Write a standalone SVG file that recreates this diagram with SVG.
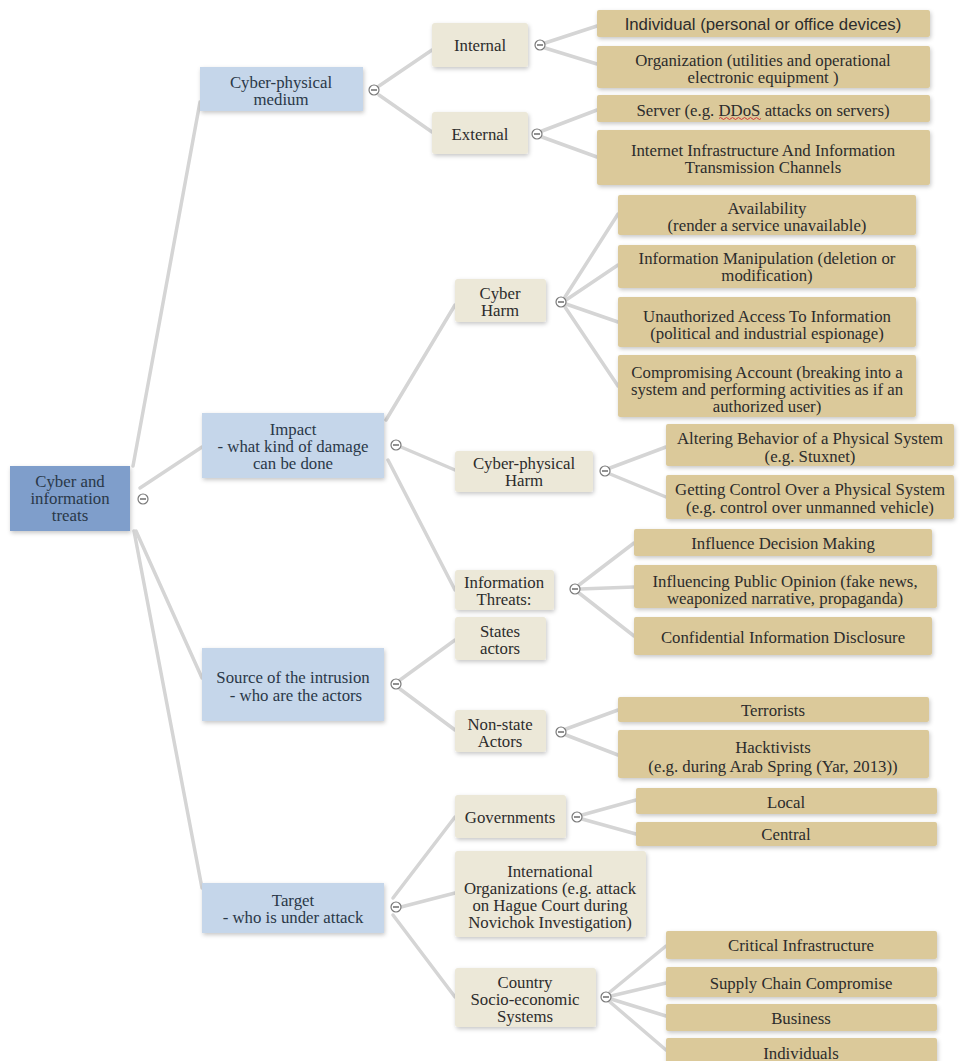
<svg xmlns="http://www.w3.org/2000/svg" width="960" height="1061" viewBox="0 0 960 1061">
<defs>
<filter id="sh" x="-10%" y="-20%" width="125%" height="150%">
<feDropShadow dx="1" dy="2" stdDeviation="2" flood-color="#000" flood-opacity="0.22"/>
</filter>
<filter id="bl" x="-5%" y="-5%" width="110%" height="110%">
<feGaussianBlur stdDeviation="0.7"/>
</filter>
<style>
.root{fill:#7f9ecb}
.l1{fill:#c5d6ea}
.l2{fill:#ece8d8}
.l3{fill:#dbc99a}
.n{filter:url(#sh)}
text{font-family:"Liberation Serif","Times New Roman",serif;font-size:16.8px;fill:#2c2c2c;text-anchor:middle}
.t1{fill:#2a3848}
.sans{font-family:"Liberation Sans",Arial,sans-serif}
.ln{fill:none;stroke:#d5d5d5;stroke-width:3.5;stroke-linecap:round}
.cc{fill:#fff;stroke:#7a7a7a;stroke-width:1.2}
.cm{stroke:#555;stroke-width:1.3}
</style>
</defs>
<rect width="960" height="1061" fill="#fff"/>
<g id="connectors" filter="url(#bl)">
<path class="ln" d="M133,466 L200,102"/>
<path class="ln" d="M140,488 L202,447"/>
<path class="ln" d="M136,531 L202,678"/>
<path class="ln" d="M134,531 L202,888"/>
<path class="ln" d="M379,86 L432,50"/>
<path class="ln" d="M379,95 L432,132"/>
<path class="ln" d="M386,420 L455,305"/>
<path class="ln" d="M394,444 L455,470"/>
<path class="ln" d="M388,460 L455,590"/>
<path class="ln" d="M400,680 L455,640"/>
<path class="ln" d="M400,689 L455,730"/>
<path class="ln" d="M393,898 L455,817"/>
<path class="ln" d="M401,907 L455,893"/>
<path class="ln" d="M393,915 L455,997"/>
<path class="ln" d="M545,43 L597,26"/>
<path class="ln" d="M545,48 L597,64"/>
<path class="ln" d="M542,131 L597,110"/>
<path class="ln" d="M542,137 L597,157"/>
<path class="ln" d="M565,297 L618,214"/>
<path class="ln" d="M566,300 L618,265"/>
<path class="ln" d="M566,304 L618,322"/>
<path class="ln" d="M565,307 L618,386"/>
<path class="ln" d="M610,468 L666,447"/>
<path class="ln" d="M610,474 L666,497"/>
<path class="ln" d="M579,585 L634,543"/>
<path class="ln" d="M580,589 L634,587"/>
<path class="ln" d="M579,593 L634,636"/>
<path class="ln" d="M566,729 L618,710"/>
<path class="ln" d="M566,735 L618,755"/>
<path class="ln" d="M582,815 L636,800"/>
<path class="ln" d="M582,819 L636,834"/>
<path class="ln" d="M610,992 L666,946"/>
<path class="ln" d="M611,996 L666,983"/>
<path class="ln" d="M611,999 L666,1016"/>
<path class="ln" d="M610,1002 L666,1050"/>
</g>

<g id="root">
<rect class="root n" x="10" y="466" width="120" height="65"/>
<text class="t1" x="70" y="487">Cyber and</text>
<text class="t1" x="70" y="504">information</text>
<text class="t1" x="70" y="521">treats</text>
<circle class="cc" cx="143" cy="499" r="5"/><line class="cm" x1="140" y1="499" x2="146" y2="499"/>
</g>

<g id="cyber-physical-medium">
<rect class="l1 n" x="200" y="67" width="163" height="44"/>
<text class="t1" x="281" y="88">Cyber-physical</text>
<text class="t1" x="281" y="105">medium</text>
<circle class="cc" cx="374" cy="90" r="5"/><line class="cm" x1="371" y1="90" x2="377" y2="90"/>
</g>

<g id="impact">
<rect class="l1 n" x="202" y="413" width="182" height="65"/>
<text class="t1" x="293" y="435">Impact</text>
<text class="t1" x="293" y="452">- what kind of damage</text>
<text class="t1" x="293" y="469">can be done</text>
<circle class="cc" cx="396" cy="445" r="5"/><line class="cm" x1="393" y1="445" x2="399" y2="445"/>
</g>

<g id="source">
<rect class="l1 n" x="202" y="648" width="182" height="73"/>
<text class="t1" x="293" y="683">Source of the intrusion</text>
<text class="t1" x="296" y="701">- who are the actors</text>
<circle class="cc" cx="396" cy="684" r="5"/><line class="cm" x1="393" y1="684" x2="399" y2="684"/>
</g>

<g id="target">
<rect class="l1 n" x="202" y="883" width="182" height="50"/>
<text class="t1" x="293" y="906">Target</text>
<text class="t1" x="293" y="923">- who is under attack</text>
<circle class="cc" cx="396" cy="907" r="5"/><line class="cm" x1="393" y1="907" x2="399" y2="907"/>
</g>

<g id="internal">
<rect class="l2 n" x="432" y="23" width="96" height="44" rx="3"/>
<text x="480" y="51">Internal</text>
<circle class="cc" cx="540" cy="45" r="5"/><line class="cm" x1="537" y1="45" x2="543" y2="45"/>
</g>
<g id="external">
<rect class="l2 n" x="432" y="112" width="96" height="42" rx="3"/>
<text x="480" y="140">External</text>
<circle class="cc" cx="537" cy="134" r="5"/><line class="cm" x1="534" y1="134" x2="540" y2="134"/>
</g>

<g id="individual-devices">
<rect class="l3 n" x="597" y="10" width="333" height="27" rx="2"/>
<text class="sans" x="763" y="30">Individual (personal or office devices)</text>
</g>
<g id="organization">
<rect class="l3 n" x="597" y="46" width="333" height="42" rx="2"/>
<text x="763" y="66">Organization (utilities and operational</text>
<text x="763" y="83">electronic equipment )</text>
</g>
<g id="server">
<rect class="l3 n" x="597" y="95" width="333" height="27" rx="2"/>
<text x="763" y="116">Server (e.g. DDoS attacks on servers)</text>
<path d="M719,118.5 q1.5,-2 3,0 t3,0 t3,0 t3,0 t3,0 t3,0 t3,0 t3,0 t3,0 t3,0 t3,0 t3,0 t3,0 t3,0" fill="none" stroke="#d23a3a" stroke-width="1"/>
</g>
<g id="internet-infrastructure">
<rect class="l3 n" x="597" y="130" width="333" height="55" rx="2"/>
<text x="763" y="156">Internet Infrastructure And Information</text>
<text x="763" y="173">Transmission Channels</text>
</g>

<g id="cyber-harm">
<rect class="l2 n" x="455" y="279" width="91" height="43" rx="3"/>
<text x="500" y="299">Cyber</text>
<text x="500" y="316">Harm</text>
<circle class="cc" cx="561" cy="302" r="5"/><line class="cm" x1="558" y1="302" x2="564" y2="302"/>
</g>
<g id="availability">
<rect class="l3 n" x="618" y="195" width="298" height="40" rx="2"/>
<text x="767" y="214">Availability</text>
<text x="767" y="231">(render a service unavailable)</text>
</g>
<g id="information-manipulation">
<rect class="l3 n" x="618" y="245" width="298" height="43" rx="2"/>
<text x="767" y="264">Information Manipulation (deletion or</text>
<text x="767" y="281">modification)</text>
</g>
<g id="unauthorized-access">
<rect class="l3 n" x="618" y="297" width="298" height="50" rx="2"/>
<text x="767" y="322">Unauthorized Access To Information</text>
<text x="767" y="339">(political and industrial espionage)</text>
</g>
<g id="compromising-account">
<rect class="l3 n" x="618" y="355" width="298" height="62" rx="2"/>
<text x="767" y="378">Compromising Account (breaking into a</text>
<text x="767" y="395">system and performing activities as if an</text>
<text x="767" y="412">authorized user)</text>
</g>

<g id="cyber-physical-harm">
<rect class="l2 n" x="455" y="451" width="138" height="41" rx="3"/>
<text x="524" y="469">Cyber-physical</text>
<text x="524" y="486">Harm</text>
<circle class="cc" cx="605" cy="471" r="5"/><line class="cm" x1="602" y1="471" x2="608" y2="471"/>
</g>
<g id="altering-behavior">
<rect class="l3 n" x="666" y="424" width="288" height="42" rx="2"/>
<text x="810" y="444">Altering Behavior of a Physical System</text>
<text x="810" y="462">(e.g. Stuxnet)</text>
</g>
<g id="getting-control">
<rect class="l3 n" x="666" y="475" width="288" height="44" rx="2"/>
<text x="810" y="495">Getting Control Over a Physical System</text>
<text x="810" y="513">(e.g. control over unmanned vehicle)</text>
</g>

<g id="information-threats">
<rect class="l2 n" x="455" y="570" width="99" height="40" rx="3"/>
<text x="504" y="588">Information</text>
<text x="504" y="605">Threats:</text>
<circle class="cc" cx="575" cy="589" r="5"/><line class="cm" x1="572" y1="589" x2="578" y2="589"/>
</g>
<g id="influence-decision">
<rect class="l3 n" x="634" y="529" width="298" height="27" rx="2"/>
<text x="783" y="549">Influence Decision Making</text>
</g>
<g id="influencing-opinion">
<rect class="l3 n" x="634" y="565" width="303" height="43" rx="2"/>
<text x="785" y="587">Influencing Public Opinion (fake news,</text>
<text x="785" y="604">weaponized narrative, propaganda)</text>
</g>
<g id="confidential-disclosure">
<rect class="l3 n" x="634" y="617" width="298" height="38" rx="2"/>
<text x="783" y="643">Confidential Information Disclosure</text>
</g>

<g id="states-actors">
<rect class="l2 n" x="455" y="617" width="91" height="43" rx="3"/>
<text x="500" y="637">States</text>
<text x="500" y="654">actors</text>
</g>
<g id="non-state-actors">
<rect class="l2 n" x="455" y="710" width="91" height="42" rx="3"/>
<text x="500" y="730">Non-state</text>
<text x="500" y="747">Actors</text>
<circle class="cc" cx="561" cy="732" r="5"/><line class="cm" x1="558" y1="732" x2="564" y2="732"/>
</g>
<g id="terrorists">
<rect class="l3 n" x="618" y="697" width="311" height="25" rx="2"/>
<text x="773" y="716">Terrorists</text>
</g>
<g id="hacktivists">
<rect class="l3 n" x="618" y="730" width="311" height="48" rx="2"/>
<text x="773" y="753">Hacktivists</text>
<text x="773" y="772">(e.g. during Arab Spring (Yar, 2013))</text>
</g>

<g id="governments">
<rect class="l2 n" x="455" y="795" width="111" height="43" rx="3"/>
<text x="510" y="823">Governments</text>
<circle class="cc" cx="577" cy="817" r="5"/><line class="cm" x1="574" y1="817" x2="580" y2="817"/>
</g>
<g id="local">
<rect class="l3 n" x="636" y="788" width="301" height="26" rx="2"/>
<text x="786" y="808">Local</text>
</g>
<g id="central">
<rect class="l3 n" x="636" y="822" width="301" height="24" rx="2"/>
<text x="786" y="840">Central</text>
</g>

<g id="international-organizations">
<rect class="l2 n" x="455" y="851" width="191" height="86" rx="3"/>
<text x="550" y="877">International</text>
<text x="550" y="894">Organizations (e.g. attack</text>
<text x="550" y="911">on Hague Court during</text>
<text x="550" y="928">Novichok Investigation)</text>
</g>

<g id="country-systems">
<rect class="l2 n" x="455" y="968" width="141" height="59" rx="3"/>
<text x="525" y="988">Country</text>
<text x="525" y="1005">Socio-economic</text>
<text x="525" y="1022">Systems</text>
<circle class="cc" cx="606" cy="997" r="5"/><line class="cm" x1="603" y1="997" x2="609" y2="997"/>
</g>
<g id="critical-infrastructure">
<rect class="l3 n" x="666" y="931" width="271" height="28" rx="2"/>
<text x="801" y="951">Critical Infrastructure</text>
</g>
<g id="supply-chain">
<rect class="l3 n" x="666" y="967" width="271" height="30" rx="2"/>
<text x="801" y="989">Supply Chain Compromise</text>
</g>
<g id="business">
<rect class="l3 n" x="666" y="1004" width="271" height="27" rx="2"/>
<text x="801" y="1024">Business</text>
</g>
<g id="individuals">
<rect class="l3 n" x="666" y="1038" width="271" height="30" rx="2"/>
<text x="801" y="1059">Individuals</text>
</g>
</svg>
